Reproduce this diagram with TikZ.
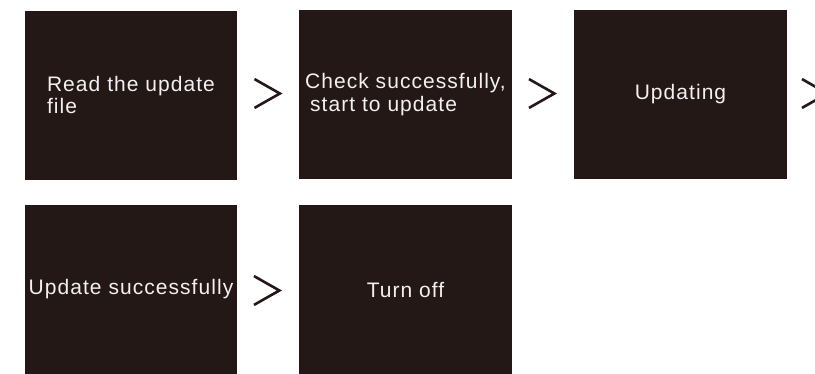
\documentclass[tikz,border=0pt]{standalone}
\usepackage{fontspec}
\usetikzlibrary{calc}
\newfontfamily\boxfont[LetterSpace=5]{Liberation Sans}
\definecolor{boxbg}{HTML}{231816}
\definecolor{boxtext}{HTML}{F2F0F0}
\begin{document}
\begin{tikzpicture}[x=1pt,y=-1pt,
  box/.style={fill=boxbg, draw=none, minimum width=212pt, minimum height=169pt,
    inner sep=0pt, text=boxtext, font=\boxfont\fontsize{21}{22.6}\selectfont, align=left},
  chev/.pic={\draw[line width=2.6pt, draw=boxbg] (-12.7,-14.4) -- (12.7,0) -- (-12.7,14.4);}]
\useasboundingbox (0,0) rectangle (815,373);
\node[box] (b1) at (131,95) {Read the update\\file};
\node[box, minimum width=213pt] (b2) at (405.5,94.5) {Check successfully,\\\hspace{5pt}start to update};
\node[box, minimum width=213pt] (b3) at (680.5,94.5) {Updating};
\node[box] (b4) at (131,289.5) {Update successfully};
\node[box, minimum width=213pt] (b5) at (405.5,289.5) {Turn off};
\pic at ($(b1.east)+(30,-1.5)$) {chev};
\pic at ($(b2.east)+(29.5,-1)$) {chev};
\pic at ($(b3.east)+(27.5,-1)$) {chev};
\pic at ($(b4.east)+(29.5,1)$) {chev};
\end{tikzpicture}
\end{document}
